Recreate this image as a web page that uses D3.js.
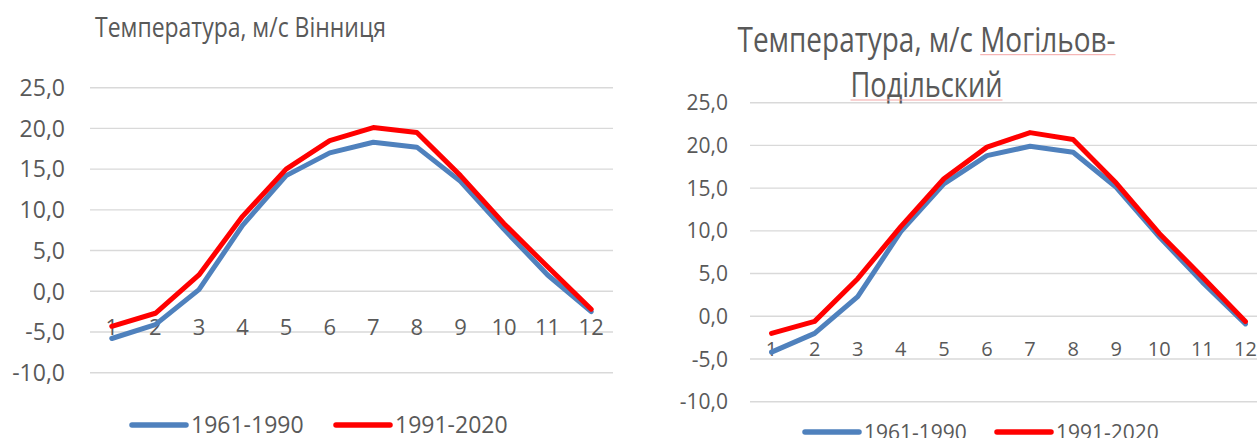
<!DOCTYPE html>
<html>
<head>
<meta charset="utf-8">
<script src="https://cdn.jsdelivr.net/npm/d3@7"></script>
<style>
  body { margin: 0; background: #fff; }
  text { font-family: "Open Sans", "Noto Sans", sans-serif; fill: #595959; }
</style>
</head>
<body>
<svg id="chart" width="1257" height="438"></svg>
<script>
// months on the category axis
const months = ["1", "2", "3", "4", "5", "6", "7", "8", "9", "10", "11", "12"];
const yTicks = [-10, -5, 0, 5, 10, 15, 20, 25];
const seriesNames = ["1961-1990", "1991-2020"];
const seriesColors = ["#4f81bd", "#ff0000"];

// Вінниця
const vinOld = [-5.8, -4.1, 0.2, 8.1, 14.2, 17.0, 18.3, 17.7, 13.5, 7.6, 2.0, -2.5];
const vinNew = [-4.3, -2.7, 2.0, 9.2, 15.0, 18.5, 20.1, 19.5, 14.2, 8.3, 3.0, -2.2];

// Могільов-Подільский
const mogOld = [-4.2, -2.0, 2.3, 9.9, 15.5, 18.8, 19.9, 19.2, 15.1, 9.3, 4.0, -0.9];
const mogNew = [-2.0, -0.6, 4.4, 10.5, 16.1, 19.8, 21.5, 20.7, 15.6, 9.7, 4.6, -0.6];

const svg = d3.select("#chart");
svg.append("rect").attr("width", 1257).attr("height", 438).attr("fill", "#fff");

function drawChart(cfg) {
  const g = svg.append("g");

  const x = d3.scaleBand().domain(months).range([cfg.left, cfg.right]);
  const y = d3.scaleLinear().domain([-10, 25]).range([cfg.bottom, cfg.top]);

  // grid
  g.selectAll(".grid")
    .data(yTicks)
    .enter()
    .append("line")
      .attr("x1", cfg.left)
      .attr("x2", cfg.right)
      .attr("y1", d => y(d))
      .attr("y2", d => y(d))
      .attr("stroke", "#d9d9d9")
      .attr("stroke-width", 1.4);

  // y tick labels
  g.selectAll(".ylab")
    .data(yTicks)
    .enter()
    .append("text")
      .attr("x", cfg.yLabelX)
      .attr("y", d => y(d))
      .attr("dy", "0.36em")
      .attr("text-anchor", "end")
      .style("font-size", cfg.tickSize + "px")
      .text(d => d3.format(".1f")(d).replace(".", ",").replace("−", "-"));

  // category labels, just under the zero line
  g.selectAll(".xlab")
    .data(months)
    .enter()
    .append("text")
      .attr("x", d => x(d) + x.bandwidth() / 2)
      .attr("y", y(0) + cfg.catOffset)
      .attr("text-anchor", "middle")
      .style("font-size", cfg.catSize + "px")
      .text(d => d);

  const line = d3.line()
    .x((d, i) => x(months[i]) + x.bandwidth() / 2)
    .y(d => y(d));

  [cfg.oldData, cfg.newData].forEach((s, i) => {
    g.append("path")
      .attr("d", line(s))
      .attr("fill", "none")
      .attr("stroke", seriesColors[i])
      .attr("stroke-width", cfg.lineWidth)
      .attr("stroke-linecap", "round")
      .attr("stroke-linejoin", "round");
  });

  // title (squeezed to the narrower Calibri width of the original)
  cfg.title.forEach((t, i) => {
    const tt = g.append("text")
      .attr("x", cfg.titleX)
      .attr("y", cfg.titleY[i])
      .attr("text-anchor", "middle")
      .attr("textLength", cfg.titleW[i])
      .attr("lengthAdjust", "spacingAndGlyphs")
      .style("font-size", cfg.titleSize + "px")
      .text(t);
    // spell-check underline from the original screenshot
    if (cfg.underline && cfg.underline[i] !== null) {
      const node = tt.node();
      const from = cfg.underline[i];
      const start = node.getStartPositionOfChar(from).x;
      const end = node.getEndPositionOfChar(t.length - 1).x;
      g.append("line")
        .attr("x1", start).attr("x2", end)
        .attr("y1", cfg.titleY[i] + 3).attr("y2", cfg.titleY[i] + 3)
        .attr("stroke", "#f3a6a6")
        .attr("stroke-width", 1);
    }
  });

  // legend
  seriesNames.forEach((name, i) => {
    const lx = cfg.legendX[i];
    g.append("line")
      .attr("x1", lx).attr("x2", lx + cfg.legendLen)
      .attr("y1", cfg.legendY).attr("y2", cfg.legendY)
      .attr("stroke", seriesColors[i])
      .attr("stroke-width", cfg.lineWidth + 0.5)
      .attr("stroke-linecap", "round");
    g.append("text")
      .attr("x", lx + cfg.legendLen + 5)
      .attr("y", cfg.legendY)
      .attr("dy", "0.36em")
      .style("font-size", cfg.legendSize + "px")
      .text(name);
  });
}

drawChart({
  left: 90, right: 613, top: 87.7, bottom: 372.7,
  yLabelX: 65, tickSize: 23, catSize: 22, catOffset: 43.5,
  oldData: vinOld, newData: vinNew, lineWidth: 5,
  title: ["Температура, м/с Вінниця"], titleX: 240.5, titleY: [36.7], titleW: [291], titleSize: 27,
  underline: null,
  legendX: [132, 336], legendY: 425, legendLen: 54, legendSize: 23
});

drawChart({
  left: 750, right: 1267, top: 102.7, bottom: 401.7,
  yLabelX: 728, tickSize: 21, catSize: 20, catOffset: 40,
  oldData: mogOld, newData: mogNew, lineWidth: 5,
  title: ["Температура, м/с Могільов-", "Подільский"], titleX: 926.5, titleY: [51.7, 97], titleW: [378, 152], titleSize: 35,
  underline: [17, 0],
  legendX: [805, 997], legendY: 432, legendLen: 54, legendSize: 21
});
</script>
</body>
</html>
